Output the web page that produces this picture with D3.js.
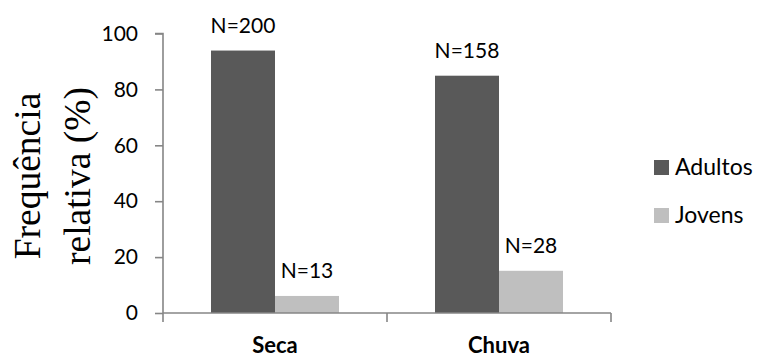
<!DOCTYPE html>
<html>
<head>
<meta charset="utf-8">
<script src="https://cdn.jsdelivr.net/npm/d3@7"></script>
<style>
  html, body { margin: 0; padding: 0; background: #fff; }
  svg { display: block; }
  text { font-family: Lato, "Open Sans", sans-serif; fill: #000; }
</style>
</head>
<body>
<svg id="chart" width="760" height="358"></svg>
<script>
// Relative frequency (%) of adults and juveniles per season
const categories = ["Seca", "Chuva"];
const seriesNames = ["Adultos", "Jovens"];
const adultos = [93.9, 84.9];
const jovens = [6.1, 15.1];
const adultosN = ["N=200", "N=158"];
const jovensN = ["N=13", "N=28"];
const yTicks = [0, 20, 40, 60, 80, 100];
const colors = ["#595959", "#bfbfbf"];

const svg = d3.select("#chart");
const axisColor = "#868686";

const plotLeft = 163, plotRight = 611, plotTop = 33.5, plotBottom = 313;

const x0 = d3.scaleBand().domain(categories).range([plotLeft, plotRight]).paddingInner(0).paddingOuter(0);
const x1 = d3.scaleBand().domain(seriesNames).range([0, x0.bandwidth()]).paddingInner(0).paddingOuter(0.75);
const y = d3.scaleLinear().domain([0, 100]).range([plotBottom, plotTop]);
const color = d3.scaleOrdinal().domain(seriesNames).range(colors);

const rows = [];
categories.forEach((c, i) => {
  rows.push({ cat: c, series: "Adultos", value: adultos[i], label: adultosN[i] });
  rows.push({ cat: c, series: "Jovens", value: jovens[i], label: jovensN[i] });
});

// Bars
svg.append("g").selectAll("rect").data(rows).join("rect")
  .attr("x", d => x0(d.cat) + x1(d.series))
  .attr("y", d => y(d.value))
  .attr("width", x1.bandwidth())
  .attr("height", d => y(0) - y(d.value))
  .attr("fill", d => color(d.series));

// N labels above bars
svg.append("g").selectAll("text").data(rows).join("text")
  .attr("x", d => x0(d.cat) + x1(d.series) + x1.bandwidth() / 2)
  .attr("y", d => y(d.value) - 18)
  .attr("text-anchor", "middle")
  .style("font-size", "21px")
  .text(d => d.label);

// Y axis
const yAxis = svg.append("g")
  .attr("transform", `translate(${plotLeft},0)`)
  .call(d3.axisLeft(y).tickValues(yTicks).tickSize(8).tickPadding(17).tickFormat(d3.format("d")));
yAxis.select(".domain").attr("stroke", axisColor).attr("stroke-width", 1.6)
  .attr("d", `M-8,${plotTop}H0V${plotBottom + 9}`);
yAxis.selectAll(".tick line").attr("stroke", axisColor).attr("stroke-width", 1.6);
yAxis.selectAll(".tick text").style("font-size", "21px").style("font-family", "Lato, sans-serif").attr("fill", "#000");

// X axis line with boundary ticks
const xAxis = svg.append("g").attr("transform", `translate(0,${plotBottom})`);
xAxis.append("line").attr("x1", plotLeft).attr("x2", plotRight).attr("y1", 0).attr("y2", 0)
  .attr("stroke", axisColor).attr("stroke-width", 1.6);
const bounds = categories.map(c => x0(c)).concat([x0(categories[categories.length - 1]) + x0.bandwidth()]);
xAxis.selectAll("line.bt").data(bounds.slice(1)).join("line").attr("class", "bt")
  .attr("x1", d => d).attr("x2", d => d).attr("y1", 0).attr("y2", 9)
  .attr("stroke", axisColor).attr("stroke-width", 1.6);
xAxis.selectAll("text").data(categories).join("text")
  .attr("x", d => x0(d) + x0.bandwidth() / 2)
  .attr("y", 40)
  .attr("text-anchor", "middle")
  .style("font-size", "22px")
  .style("font-weight", "bold")
  .text(d => d);

// Y axis title (two lines, rotated)
const title = svg.append("text")
  .attr("transform", "translate(0,176) rotate(-90)")
  .attr("text-anchor", "middle")
  .style("font-family", "'Liberation Serif', 'Times New Roman', serif")
  .style("font-size", "37.5px");
title.append("tspan").attr("x", 0).attr("y", 40).text("Frequência");
title.append("tspan").attr("x", 0).attr("y", 90).text("relativa (%)");

// Legend
const legend = svg.append("g").selectAll("g").data(seriesNames).join("g")
  .attr("transform", (d, i) => `translate(654,${160 + i * 48})`);
legend.append("rect").attr("width", 15).attr("height", 15).attr("fill", d => color(d));
legend.append("text").attr("x", 21).attr("y", 15)
  .style("font-size", "23px").text(d => d);
</script>
</body>
</html>
